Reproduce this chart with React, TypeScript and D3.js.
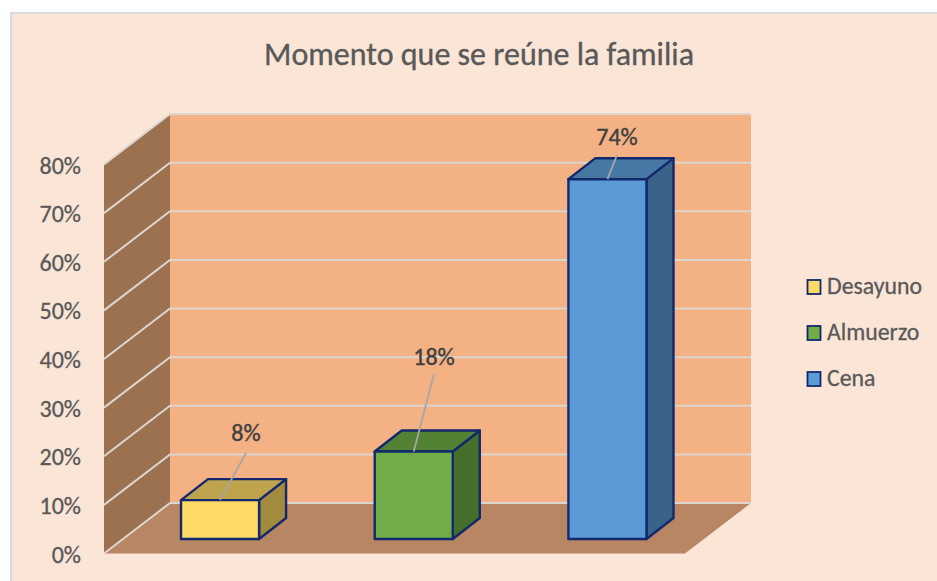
import React from "react";
import * as d3 from "d3";

const categories = ["Desayuno", "Almuerzo", "Cena"];
const values = [0.08, 0.18, 0.74];
const valueLabels = ["8%", "18%", "74%"];
const ticks = [0, 0.1, 0.2, 0.3, 0.4, 0.5, 0.6, 0.7, 0.8];
const fronts = ["#ffd966", "#70ad47", "#5b9bd5"];
const tops = ["#c0a44d", "#548235", "#4678a3"];
const sides = ["#a28a3f", "#456f2b", "#396388"];
const legendY = [287, 333, 379];
const labelPos = [
  { x: 246, y: 433, lx: 246, ly: 453 },
  { x: 434, y: 357, lx: 434, ly: 374 },
  { x: 617, y: 137, lx: 617, ly: 155 },
];

const FONT = "Carlito, Lato, 'Open Sans', sans-serif";

export default function App() {
  const yBack = d3.scaleLinear().domain([0, 0.8]).range([503, 114]);
  const yFront = d3.scaleLinear().domain([0, 0.8]).range([553.5, 164.5]);
  const yBar = d3.scaleLinear().domain([0, 0.8]).range([539, 150]);
  const xBar = d3.scaleBand().domain(categories).range([122.9, 704.6]).paddingInner(0.597).paddingOuter(0.3);
  const barW = xBar.bandwidth();
  const depthX = 27;
  const depthY = 21;
  const path = (pts: number[][]) => (d3.line()(pts as [number, number][]) ?? "") + "Z";
  return (
    <svg width={937} height={581} style={{ position: "absolute", left: 0, top: 0 }} fontFamily={FONT}>
      <rect x={0} y={0} width={937} height={581} fill="#ffffff" />
      <rect x={11} y={13} width={930} height={575} fill="#fbe5d6" stroke="#d9d9d9" strokeWidth={2} />
      <text x={479} y={65} textAnchor="middle" fontSize={32} fill="#595959" stroke="#595959" strokeWidth={0.35}>Momento que se reúne la familia</text>

      <rect x={170} y={114} width={581} height={389} fill="#f4b183" />
      <path d={path([[104, 164.5], [170, 114], [170, 503], [104, 553.5]])} fill="#9c7150" />
      <path d={path([[104, 553.5], [170, 503], [751, 503], [685, 553.5]])} fill="#b88662" />
      {ticks.map((t) => (
        <g key={t}>
          <path
            d={d3.line()([[104, yFront(t)], [170, yBack(t)], [751, yBack(t)]]) ?? ""}
            fill="none"
            stroke="#dcd6d0"
            strokeWidth={2}
          />
          <text x={81} y={yFront(t) + 9} textAnchor="end" fontSize={24} fill="#595959" stroke="#595959" strokeWidth={0.3}>{`${Math.round(t * 100)}%`}</text>
        </g>
      ))}

      {categories.map((c, i) => {
        const x = xBar(c) as number;
        const y = yBar(values[i]);
        const b = yBar(0);
        return (
          <g key={c} stroke="#12296e" strokeWidth={2.4} strokeLinejoin="round">
            <path d={path([[x + barW, y], [x + barW + depthX, y - depthY], [x + barW + depthX, b - depthY], [x + barW, b]])} fill={sides[i]} />
            <path d={path([[x, y], [x + depthX, y - depthY], [x + barW + depthX, y - depthY], [x + barW, y]])} fill={tops[i]} />
            <rect x={x} y={y} width={barW} height={b - y} fill={fronts[i]} />
          </g>
        );
      })}
      {categories.map((c, i) => {
        const x = (xBar(c) as number) + barW / 2;
        const y = yBar(values[i]);
        const p = labelPos[i];
        return (
          <g key={c}>
            <line x1={x} y1={y} x2={p.lx} y2={p.ly} stroke="#a6a6a6" strokeWidth={1.8} />
            <text x={p.x} y={p.y + 8} textAnchor="middle" fontSize={24} fill="#404040" stroke="#404040" strokeWidth={0.4}>{valueLabels[i]}</text>
          </g>
        );
      })}
      {categories.map((c, i) => (
        <g key={c}>
          <rect x={807.5} y={legendY[i] - 7} width={13} height={14} fill={fronts[i]} stroke="#12296e" strokeWidth={1.8} />
          <text x={827} y={legendY[i] + 7} fontSize={23.8} fill="#595959" stroke="#595959" strokeWidth={0.3}>{c}</text>
        </g>
      ))}
    </svg>
  );
}
